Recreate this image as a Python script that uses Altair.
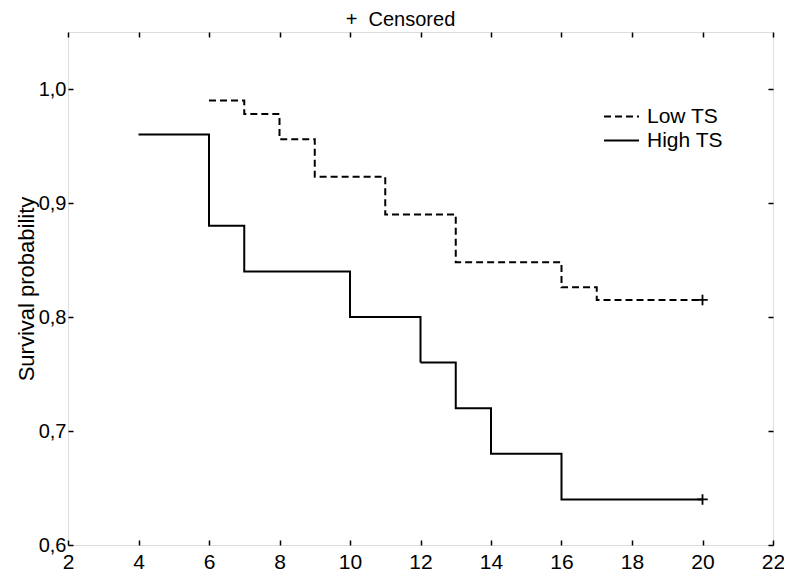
import altair as alt
import pandas as pd

# Low TS (dashed) Kaplan-Meier steps
low_t = [6, 7, 8, 9, 11, 13, 16, 17, 20]
low_s = [0.99, 0.978, 0.956, 0.923, 0.890, 0.848, 0.826, 0.815, 0.815]
# High TS (solid)
high_t = [4, 6, 7, 10, 12, 13, 14, 16, 20]
high_s = [0.96, 0.88, 0.84, 0.80, 0.76, 0.72, 0.68, 0.64, 0.64]
# censored points
cens_t = [20, 20]
cens_s = [0.815, 0.64]

x_ticks = [2, 4, 6, 8, 10, 12, 14, 16, 18, 20, 22]
y_ticks = [0.6, 0.7, 0.8, 0.9, 1.0]
groups = ["Low TS", "High TS"]

df = pd.concat([
    pd.DataFrame({"t": low_t, "s": low_s, "g": groups[0]}),
    pd.DataFrame({"t": high_t, "s": high_s, "g": groups[1]}),
])
cdf = pd.DataFrame({"t": cens_t, "s": cens_s})

FONT = "Liberation Sans"
xs = alt.Scale(domain=[2, 22], nice=False)
ys = alt.Scale(domain=[0.6, 1.05], nice=False, zero=False)

lines = alt.Chart(df).mark_line(interpolate="step-after", color="black", strokeWidth=2).encode(
    x=alt.X("t:Q", scale=xs, axis=alt.Axis(
        values=x_ticks, format="d", title=None, grid=False, domain=False,
        tickSize={"expr": "-5"}, tickColor="black", tickWidth=1.5,
        labelFontSize=21, labelColor="black", labelPadding=11, labelFont=FONT,
        labelFlush=False, labelOverlap=False)),
    y=alt.Y("s:Q", scale=ys, axis=alt.Axis(
        values=y_ticks, format=".1f", labelExpr="replace(datum.label, '.', ',')",
        title="Survival probability", grid=False, domain=False,
        tickSize={"expr": "-5"}, tickColor="black", tickWidth=1.5,
        labelFontSize=20, labelColor="black", labelPadding=7, labelFont=FONT,
        titleFontSize=22, titleFontWeight="normal", titleColor="black", titleFont=FONT,
        titlePadding=0, labelFlush=False, labelOverlap=False)),
    strokeDash=alt.StrokeDash("g:N", scale=alt.Scale(domain=groups, range=[[7, 4], [1, 0]]),
        legend=alt.Legend(title=None, orient="none", legendX=543, legendY=74,
                          symbolType="M-2,0H2", symbolSize=306, symbolStrokeWidth=2,
                          symbolStrokeColor="black", symbolFillColor="transparent",
                          labelFontSize=21, labelColor="black", labelFont=FONT,
                          labelOffset=15, padding=0, rowPadding=2)),
    detail="g:N",
)

cens = alt.Chart(cdf).mark_point(shape="M-1,0H1M0,-1V1", size=110, color="black",
                                 strokeWidth=1.8, filled=False, opacity=1).encode(
    x=alt.X("t:Q", scale=xs, axis=None),
    y=alt.Y("s:Q", scale=ys, axis=None),
)

frame = alt.Chart(cdf).mark_point(opacity=0).encode(
    x=alt.X("t:Q", scale=xs, axis=alt.Axis(
        orient="top", values=x_ticks, labels=False, title=None, grid=False, domain=False,
        tickSize={"expr": "-5"}, tickColor="black", tickWidth=1.5)),
    y=alt.Y("s:Q", scale=ys, axis=alt.Axis(
        orient="right", values=y_ticks, labels=False, title=None, grid=False, domain=False,
        tickSize={"expr": "-5"}, tickColor="black", tickWidth=1.5)),
)

chart = alt.layer(lines, cens, frame).resolve_axis(x="independent", y="independent").properties(
    width=705, height=513,
    title=alt.TitleParams("+\u00a0\u00a0Censored", fontSize=20, fontWeight="normal", font=FONT,
                          color="black", anchor="middle", dx=-20, offset=1, lineHeight=20),
    autosize=alt.AutoSizeParams(type="none"),
    padding={"left": 60, "top": 24, "right": 11, "bottom": 28},
).configure_view(stroke="black", strokeWidth=2).configure(font=FONT)

chart.save("out.html", embed_options={"renderer": "svg", "actions": False})
